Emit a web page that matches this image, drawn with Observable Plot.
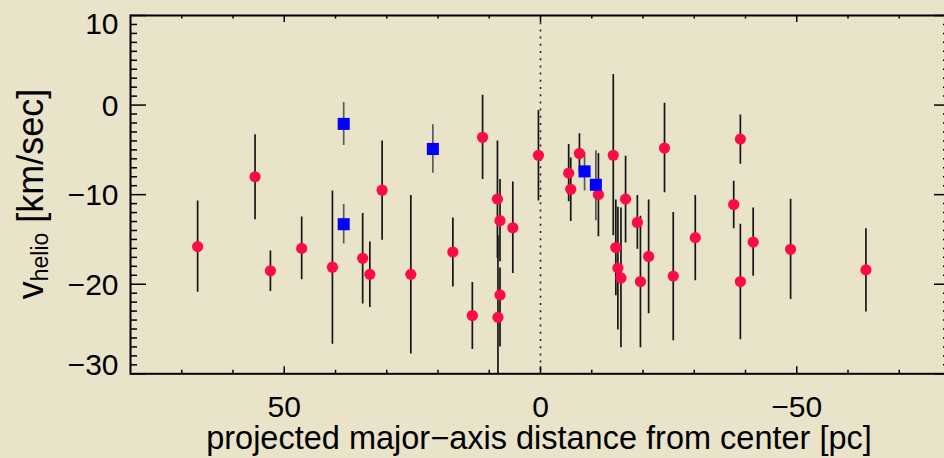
<!DOCTYPE html>
<html><head><meta charset="utf-8">
<script src="https://cdn.jsdelivr.net/npm/d3@7"></script>
<script src="https://cdn.jsdelivr.net/npm/@observablehq/plot@0.6"></script>
<style>
html,body{margin:0;padding:0;background:#E8E3C9;overflow:hidden;}
#chart{width:944px;height:458px;overflow:hidden;}
#chart svg{max-width:none !important;}
</style></head><body><div id="chart"></div>
<script>
// Red points: projected distance (pc), v_helio (km/s), error-bar low/high ends
const redX  = [66.9, 55.7, 52.7, 46.6, 40.6, 34.7, 33.3, 30.9, 25.3, 17.1, 13.3, 11.3, 8.4, 7.9, 5.4, 7.9, 8.3, 0.4, -5.5, -5.9, -7.6, -11.3, -14.2, -16.6, -14.7, -15.1, -15.7, -18.9, -19.5, -21.1, -24.2, -25.9, -30.2, -39.0, -37.7, -39.0, -41.5, -48.8, -63.5];
const redY  = [-15.8, -8.0, -18.5, -16.0, -18.1, -17.1, -18.9, -9.5, -18.9, -16.4, -23.5, -3.6, -10.5, -12.9, -13.7, -21.2, -23.7, -5.6, -7.6, -9.4, -5.4, -10.0, -5.6, -10.5, -15.9, -18.2, -19.3, -13.1, -19.7, -16.9, -4.8, -19.1, -14.8, -3.8, -11.1, -19.7, -15.3, -16.1, -18.4];
const redLo = [-20.9, -12.8, -20.8, -19.5, -26.7, -22.2, -22.6, -15.1, -27.8, -20.3, -27.3, -8.3, -17.1, -17.5, -18.8, -27.0, -33.0, -10.7, -10.8, -13.0, -7.6, -14.7, -14.6, -15.4, -21.3, -25.1, -27.1, -16.1, -27.1, -23.3, -9.8, -26.3, -19.6, -6.6, -13.8, -26.2, -19.1, -21.7, -23.1];
const redHi = [-10.7, -3.3, -16.3, -12.5, -9.6, -12.1, -15.3, -4.0, -10.1, -12.6, -19.8, 1.1, -4.0, -8.3, -8.6, -18.2, -14.6, -0.6, -4.4, -5.9, -3.2, -5.4, 3.4, -5.7, -10.6, -11.4, -11.5, -10.1, -12.4, -10.6, 0.2, -12.0, -10.1, -1.1, -8.5, -13.3, -11.5, -10.5, -13.8];
// Blue squares
const blueX  = [38.4, 38.4, 21.0, -8.6, -10.8];
const blueY  = [-2.1, -13.3, -4.9, -7.4, -8.9];
const blueLo = [-4.5, -15.5, -7.6, -9.6, -12.9];
const blueHi = [0.3, -11.1, -2.2, -5.3, -5.1];
// Axis ticks
const xMajor = [50, 0, -50];
const xMinor = [70, 60, 40, 30, 20, 10, -10, -20, -30, -40, -60, -70];
const yMajor = [10, 0, -10, -20, -30];
const yMinor = d3.range(-29, 10, 1).filter(v => v % 10 !== 0);
const xTitle = "projected major\u2212axis distance from center [pc]";

const red = redX.map((x, i) => ({x, y: redY[i], lo: redLo[i], hi: redHi[i]}));
const blue = blueX.map((x, i) => ({x, y: blueY[i], lo: blueLo[i], hi: blueHi[i]}));

const W = 950, H = 458, mL = 130, mR = 0, mT = 15, mB = 84.7;
const pW = W - mL - mR, pH = H - mT - mB;
const yTop = d3.max(yMajor), yBot = d3.min(yMajor);
const yMid = yMajor.filter(v => v !== yTop && v !== yBot);
const yAxisOpts = {tickSize: 0, tickPadding: 12, fontSize: 30, label: null};

const chart = Plot.plot({
  width: W, height: H,
  marginLeft: mL, marginRight: mR, marginTop: mT, marginBottom: mB,
  x: {domain: [80, -80]},
  y: {domain: [-30, 10]},
  style: {background: "transparent", fontFamily: "'Liberation Sans', Arial, sans-serif", color: "#000", overflow: "visible", maxWidth: "none"},
  marks: [
    Plot.ruleX([0], {stroke: "#222", strokeWidth: 1.6, strokeDasharray: "2,5.2"}),
    Plot.ruleX(red, {x: "x", y1: "lo", y2: "hi", stroke: "#151515", strokeWidth: 1.7, clip: true}),
    Plot.ruleX(blue, {x: "x", y1: "lo", y2: "hi", stroke: "#5a5a5a", strokeWidth: 1.7, clip: true}),
    Plot.dot(red, {x: "x", y: "y", r: 5.6, fill: "#FF0A45", stroke: null}),
    Plot.dot(blue, {x: "x", y: "y", r: 6.8, symbol: "square", fill: "#0000FF", stroke: null}),
    // ticks (inward), left/right/top/bottom
    Plot.tickY(yMajor, {y: d => d, insetRight: pW - 16, stroke: "#000", strokeWidth: 1.5}),
    Plot.tickY(yMinor, {y: d => d, insetRight: pW - 7, stroke: "#000", strokeWidth: 1.5}),
    Plot.tickY(yMajor, {y: d => d, insetLeft: pW - 16, stroke: "#000", strokeWidth: 1.5}),
    Plot.tickY(yMinor, {y: d => d, insetLeft: pW - 7, stroke: "#000", strokeWidth: 1.5}),
    Plot.tickX(xMajor, {x: d => d, insetTop: pH - 7, stroke: "#000", strokeWidth: 1.5}),
    Plot.tickX(xMinor, {x: d => d, insetTop: pH - 3.5, stroke: "#000", strokeWidth: 1.5}),
    Plot.tickX(xMajor, {x: d => d, insetBottom: pH - 7, stroke: "#000", strokeWidth: 1.5}),
    Plot.tickX(xMinor, {x: d => d, insetBottom: pH - 3.5, stroke: "#000", strokeWidth: 1.5}),
    Plot.axisX(xMajor, {tickSize: 0, tickPadding: 22, fontSize: 30, label: null}),
    Plot.axisY(yMid, {...yAxisOpts, dy: 1}),
    Plot.axisY([yTop], {...yAxisOpts, dy: 9}),
    Plot.axisY([yBot], {...yAxisOpts, dy: -8}),
    Plot.frame({stroke: "#000", strokeWidth: 2})
  ]
});
document.getElementById("chart").appendChild(chart);

const svg = d3.select(chart);
svg.append("text")
  .attr("x", 539).attr("y", 449)
  .attr("text-anchor", "middle")
  .attr("font-size", 32.5)
  .attr("fill", "#000")
  .text(xTitle);
const yt = svg.append("text")
  .attr("transform", "translate(43,194) rotate(-90)")
  .attr("text-anchor", "middle")
  .attr("font-size", 36)
  .attr("fill", "#000");
yt.append("tspan").text("v");
yt.append("tspan").attr("font-size", 23).attr("dy", 5).text("helio");
yt.append("tspan").attr("dy", -5).text(" [km/sec]");
</script>
</body></html>
